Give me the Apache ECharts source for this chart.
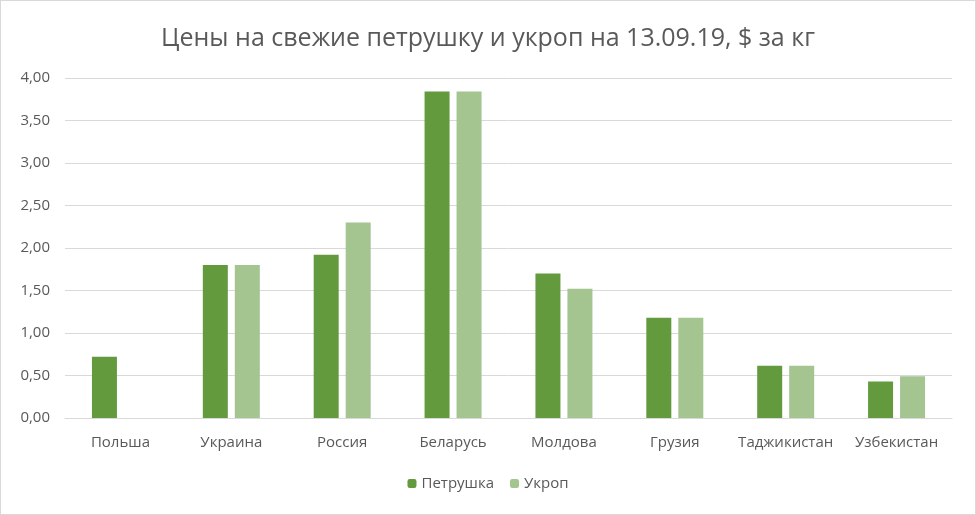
<!DOCTYPE html>
<html><head><meta charset="utf-8">
<script src="https://cdn.jsdelivr.net/npm/echarts@6/dist/echarts.min.js"></script>
<style>html,body{margin:0;padding:0;background:#fff}#c{width:976px;height:515px;box-sizing:border-box;border:1px solid #d9d9d9}</style>
</head><body><div id="c"></div>
<script>
const categories = ['Польша','Украина','Россия','Беларусь','Молдова','Грузия','Таджикистан','Узбекистан'];
const parsley = [0.72, 1.80, 1.92, 3.84, 1.70, 1.18, 0.615, 0.43];
const dill = [null, 1.80, 2.30, 3.84, 1.52, 1.18, 0.615, 0.49];
const yTicks = [0, 0.5, 1, 1.5, 2, 2.5, 3, 3.5, 4];
const font = '"Open Sans", sans-serif';
const chart = echarts.init(document.getElementById('c'));
chart.setOption({
  animation: false,
  title: {text: 'Цены на свежие петрушку и укроп на 13.09.19, $ за кг', left: 'center', top: 20,
    textStyle: {fontFamily: font, fontSize: 25, fontWeight: 'normal', color: '#595959'}},
  grid: {left: 64, right: 23, top: 77, bottom: 96},
  legend: {bottom: 18, left: 'center', itemWidth: 9, itemHeight: 9, itemGap: 16,
    textStyle: {fontFamily: font, fontSize: 15, color: '#595959'},
    data: ['Петрушка','Укроп']},
  xAxis: {type: 'category', data: categories,
    axisLine: {lineStyle: {color: '#d9d9d9'}}, axisTick: {show: false},
    axisLabel: {fontFamily: font, fontSize: 15, color: '#595959', margin: 17, interval: 0}},
  yAxis: {type: 'value', min: yTicks[0], max: yTicks[yTicks.length-1], interval: 0.5,
    axisLine: {show: false}, axisTick: {show: false},
    splitLine: {lineStyle: {color: '#d9d9d9'}},
    axisLabel: {fontFamily: font, fontSize: 15, color: '#595959', margin: 15,
      formatter: v => v.toFixed(2).replace('.', ',')}},
  series: [
    {name: 'Петрушка', type: 'bar', data: parsley, barWidth: 25, barGap: '28%', itemStyle: {color: '#639a3d'}},
    {name: 'Укроп', type: 'bar', data: dill, barWidth: 25, itemStyle: {color: '#a4c490'}}
  ]
});
</script></body></html>
